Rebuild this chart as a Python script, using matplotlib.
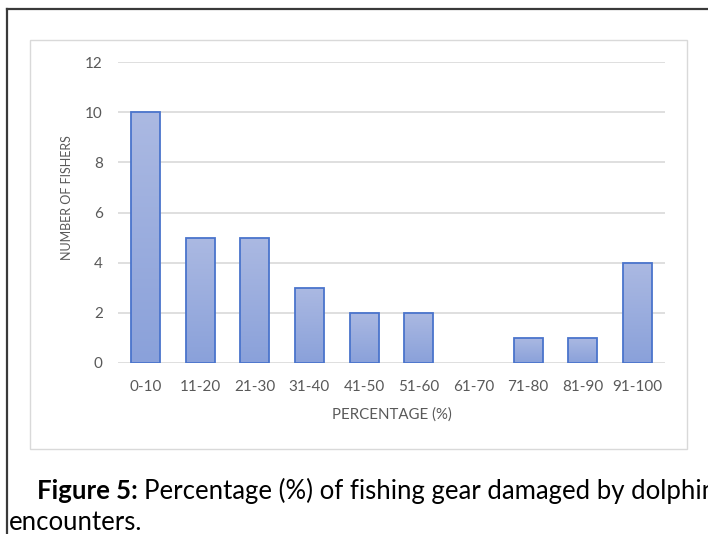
import numpy as np
import matplotlib
matplotlib.use("Agg")
import matplotlib.pyplot as plt
from matplotlib.patches import Rectangle
from matplotlib.lines import Line2D
from matplotlib.colors import LinearSegmentedColormap

# data
categories = ['0-10', '11-20', '21-30', '31-40', '41-50', '51-60',
              '61-70', '71-80', '81-90', '91-100']
fishers = [10, 5, 5, 3, 2, 2, 0, 1, 1, 4]
y_ticks = [0, 2, 4, 6, 8, 10, 12]

W, H = 708, 534
plt.rcParams['font.family'] = ['Lato', 'DejaVu Sans']

fig = plt.figure(figsize=(W / 100, H / 100), dpi=100)
fig.patch.set_facecolor('white')


def fx(px):
    return px / W


def fy(py):
    return 1 - py / H


# outer page border (left and top only, the rest is cropped)
fig.add_artist(Line2D([fx(7), fx(7)], [fy(9), 0], color='#3a3a3a', lw=1.6,
                      transform=fig.transFigure))
fig.add_artist(Line2D([fx(7), 1], [fy(9), fy(9)], color='#3a3a3a', lw=1.6,
                      transform=fig.transFigure))

# chart area box
fig.add_artist(Rectangle((fx(30), fy(449)), fx(687) - fx(30), fy(40) - fy(449),
                         fill=False, edgecolor='#d9d9d9', lw=1.0,
                         transform=fig.transFigure))

ax = fig.add_axes([fx(118), fy(363), fx(665) - fx(118), fy(62) - fy(363)])
ax.set_facecolor('none')

x = np.arange(len(categories))
width = 0.53
grad = LinearSegmentedColormap.from_list('bar', ['#8aa1da', '#abb9e2'])

edge_cols = ['#4a74cc' if v > 0 else 'none' for v in fishers]
bars = ax.bar(x, fishers, width=width, facecolor='none',
              edgecolor=edge_cols, linewidth=1.3, zorder=3)
for rect, val in zip(bars, fishers):
    if val <= 0:
        continue
    x0 = rect.get_x()
    img = ax.imshow(np.linspace(0, 1, 100).reshape(-1, 1), cmap=grad,
                    origin='lower', aspect='auto',
                    extent=[x0, x0 + rect.get_width(), 0, val], zorder=2)
    clip = Rectangle((x0, 0), rect.get_width(), val, transform=ax.transData)
    img.set_clip_path(clip)

ax.set_xlim(-0.5, len(categories) - 0.5)
ax.set_ylim(0, 12)
ax.set_yticks(y_ticks)
ax.set_xticks(x)
ax.set_xticklabels(categories)

for s in ax.spines.values():
    s.set_visible(False)
ax.yaxis.grid(True, color='#d9d9d9', lw=1.2, zorder=0)
ax.set_axisbelow(True)
ax.tick_params(axis='both', length=0, labelsize=11, labelcolor='#595959')
ax.tick_params(axis='x', pad=12)
ax.tick_params(axis='y', pad=11)

fig.text(fx(67), fy(198), 'NUMBER OF FISHERS', rotation=90, ha='center',
         va='center', fontsize=9, color='#595959')
fig.text(fx(392), fy(415), 'PERCENTAGE (%)', ha='center', va='center',
         fontsize=10.8, color='#595959')

# caption
cap_size = 18.5
cap1 = fig.text(fx(37), fy(499), 'Figure 5:', fontsize=cap_size,
                fontweight='bold', color='black', ha='left', va='baseline')
fig.canvas.draw()
bb = cap1.get_window_extent()
fig.text(bb.x1 / W + fx(6), fy(499),
         'Percentage (%) of fishing gear damaged by dolphin',
         fontsize=cap_size, color='black', ha='left', va='baseline')
fig.text(fx(9), fy(530), 'encounters.', fontsize=cap_size, color='black',
         ha='left', va='baseline')

plt.savefig('out.png', dpi=100)
